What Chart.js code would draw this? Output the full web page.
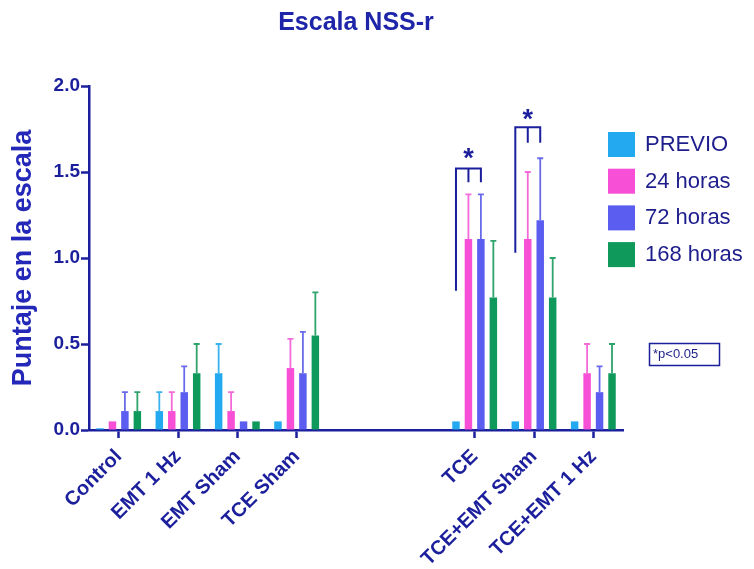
<!DOCTYPE html>
<html>
<head>
<meta charset="utf-8">
<script src="https://cdn.jsdelivr.net/npm/chart.js@4.4.1/dist/chart.umd.min.js"></script>
<style>
  html, body { margin: 0; padding: 0; background: #ffffff; }
  #wrap { width: 754px; height: 569px; }
</style>
</head>
<body>
<div id="wrap"><canvas id="c" width="754" height="569"></canvas></div>
<script>
// Groups on the x axis (two blank slots separate the non-TCE and TCE groups)
const categories = ['Control', 'EMT 1 Hz', 'EMT Sham', 'TCE Sham', '', '', 'TCE', 'TCE+EMT Sham', 'TCE+EMT 1 Hz'];
const seriesNames = ['PREVIO', '24 horas', '72 horas', '168 horas'];

// Mean NSS-r score per group and time point
const previo   = [0.01, 0.11, 0.33, 0.05, null, null, 0.05, 0.05, 0.05];
const horas24  = [0.05, 0.11, 0.11, 0.36, null, null, 1.11, 1.11, 0.33];
const horas72  = [0.11, 0.22, 0.05, 0.33, null, null, 1.11, 1.22, 0.22];
const horas168 = [0.11, 0.33, 0.05, 0.55, null, null, 0.77, 0.77, 0.33];

// Upper error (SEM) for each bar
const previoErr   = [0, 0.11, 0.17, 0, null, null, 0, 0, 0];
const horas24Err  = [0, 0.11, 0.11, 0.17, null, null, 0.26, 0.39, 0.17];
const horas72Err  = [0.11, 0.15, 0, 0.24, null, null, 0.26, 0.36, 0.15];
const horas168Err = [0.11, 0.17, 0, 0.25, null, null, 0.33, 0.23, 0.17];

const yTicks = [0, 0.5, 1.0, 1.5, 2.0];

const NAVY = '#1b1f9c';
const TEXT_DARK = '#1d1d8c';
const colors = ['#22a9f0', '#f74fd6', '#5b5cf0', '#0f9a5c'];
const errColors = ['#3bb2f0', '#f46ad9', '#6a6bea', '#2ea46c'];
const FONT = "'Liberation Sans', Arial, Helvetica, sans-serif";

const seriesValues = [previo, horas24, horas72, horas168];
const seriesErrors = [previoErr, horas24Err, horas72Err, horas168Err];

// Significance brackets: from the PREVIO bar over to the 24 h / 72 h bars
const brackets = [
  { group: 6, top: 1.52, leftFoot: 0.81, tickFoot: 1.44, star: 1.60 },
  { group: 7, top: 1.76, leftFoot: 1.03, tickFoot: 1.67, star: 1.83 }
];

const errorBars = {
  id: 'errorBars',
  afterDatasetsDraw(chart) {
    const ctx = chart.ctx;
    const y = chart.scales.y;
    ctx.save();
    chart.data.datasets.forEach((ds, i) => {
      const meta = chart.getDatasetMeta(i);
      meta.data.forEach((bar, j) => {
        const v = ds.data[j];
        const e = seriesErrors[i][j];
        if (v == null || !e) return;
        const yTop = y.getPixelForValue(v + e);
        ctx.strokeStyle = errColors[i];
        ctx.lineWidth = 1.8;
        ctx.beginPath();
        ctx.moveTo(bar.x, bar.y);
        ctx.lineTo(bar.x, yTop);
        ctx.moveTo(bar.x - 3, yTop);
        ctx.lineTo(bar.x + 3, yTop);
        ctx.stroke();
      });
    });
    ctx.restore();
  }
};

const annotations = {
  id: 'annotations',
  afterDraw(chart) {
    const ctx = chart.ctx;
    const y = chart.scales.y;
    ctx.save();
    // brackets with stars
    brackets.forEach(b => {
      const x0 = chart.getDatasetMeta(0).data[b.group].x;
      const x1 = chart.getDatasetMeta(1).data[b.group].x;
      const x2 = chart.getDatasetMeta(2).data[b.group].x;
      const yt = y.getPixelForValue(b.top);
      ctx.strokeStyle = NAVY;
      ctx.lineWidth = 2;
      ctx.beginPath();
      ctx.moveTo(x0, y.getPixelForValue(b.leftFoot));
      ctx.lineTo(x0, yt);
      ctx.lineTo(x2, yt);
      ctx.lineTo(x2, y.getPixelForValue(b.tickFoot));
      ctx.moveTo(x1, yt);
      ctx.lineTo(x1, y.getPixelForValue(b.tickFoot));
      ctx.stroke();
      ctx.fillStyle = NAVY;
      ctx.font = 'bold 27px ' + FONT;
      ctx.textAlign = 'center';
      ctx.textBaseline = 'middle';
      ctx.fillText('*', x1, y.getPixelForValue(b.star) + 5);
    });

    // legend
    const lx = 608, ly = 132, step = 36.7;
    ctx.font = '22px ' + FONT;
    ctx.textAlign = 'left';
    ctx.textBaseline = 'middle';
    chart.data.datasets.forEach((ds, i) => {
      const top = ly + i * step;
      ctx.fillStyle = ds.backgroundColor;
      ctx.fillRect(lx, top, 27, 25);
      ctx.fillStyle = TEXT_DARK;
      ctx.fillText(ds.label, lx + 37, top + 13);
    });

    // p-value note
    ctx.strokeStyle = NAVY;
    ctx.lineWidth = 1.5;
    ctx.strokeRect(649.5, 343.5, 70, 22);
    ctx.fillStyle = TEXT_DARK;
    ctx.font = '13px ' + FONT;
    ctx.fillText('*p<0.05', 653, 354.5);
    ctx.restore();
  }
};

new Chart(document.getElementById('c'), {
  type: 'bar',
  data: {
    labels: categories,
    datasets: seriesNames.map((name, i) => ({
      label: name,
      data: seriesValues[i],
      backgroundColor: colors[i],
      borderWidth: 0,
      categoryPercentage: 0.84,
      barPercentage: 0.6
    }))
  },
  options: {
    responsive: false,
    animation: false,
    devicePixelRatio: 1,
    layout: { padding: { left: 0, right: 131, top: 0, bottom: 0 } },
    plugins: {
      legend: { display: false },
      tooltip: { enabled: false },
      title: {
        display: true,
        text: 'Escala NSS-r',
        color: '#1f25a8',
        fullSize: false,
        font: { family: FONT, size: 25, weight: 'bold', lineHeight: 1.2 },
        padding: { top: 8, bottom: 48 }
      }
    },
    scales: {
      x: {
        offset: true,
        border: { display: true, color: NAVY, width: 2.5 },
        grid: {
          display: true,
          drawOnChartArea: false,
          drawTicks: true,
          offset: false,
          tickLength: 8,
          tickWidth: 2.5,
          tickColor: ctx => (categories[ctx.index] ? NAVY : 'rgba(0,0,0,0)')
        },
        ticks: {
          color: NAVY,
          font: { family: FONT, size: 20, weight: 'bold' },
          minRotation: 45,
          maxRotation: 45,
          autoSkip: false,
          padding: 7
        },
        afterFit(scale) { scale.height = 139; }
      },
      y: {
        min: 0,
        max: 2,
        afterBuildTicks(scale) { scale.ticks = yTicks.map(v => ({ value: v })); },
        border: { display: true, color: NAVY, width: 2.5 },
        grid: {
          display: true,
          drawOnChartArea: false,
          drawTicks: true,
          tickLength: 8,
          tickWidth: 2.5,
          tickColor: NAVY
        },
        ticks: {
          color: NAVY,
          font: { family: FONT, size: 19, weight: 'bold' },
          padding: 1,
          callback: v => Number(v).toFixed(1)
        },
        title: {
          display: true,
          text: 'Puntaje en la escala',
          color: '#2428b8',
          font: { family: FONT, size: 27, weight: 'bold', lineHeight: 1.2 },
          padding: { top: 7, bottom: 0 }
        },
        afterFit(scale) { scale.width = 89; }
      }
    }
  },
  plugins: [errorBars, annotations]
});
</script>
</body>
</html>
